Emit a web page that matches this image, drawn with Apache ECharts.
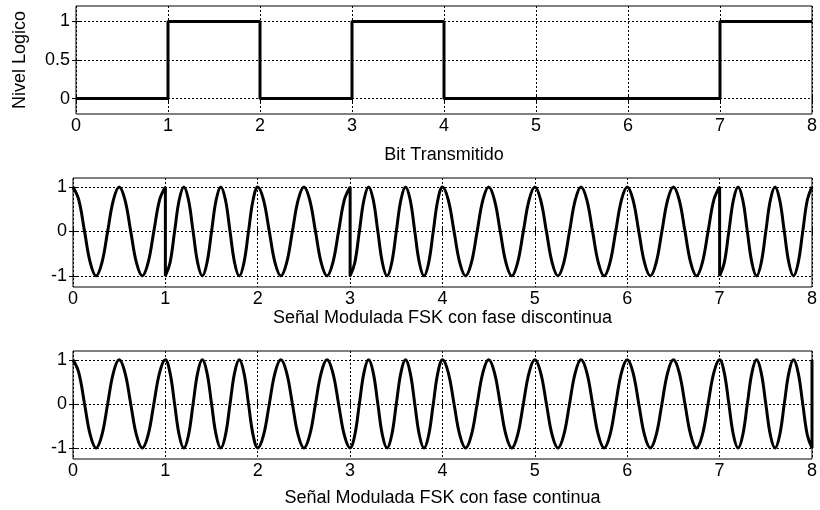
<!DOCTYPE html>
<html>
<head>
<meta charset="utf-8">
<script src="https://cdn.jsdelivr.net/npm/echarts@6/dist/echarts.min.js"></script>
<style>html,body{margin:0;padding:0;background:#fff}#c{width:820px;height:510px}</style>
</head>
<body>
<div id="c"></div>
<script>
// Bits transmitted (one per unit of time)
const bits = [0, 1, 0, 1, 0, 0, 0, 1];
const xTickValues = [0, 1, 2, 3, 4, 5, 6, 7, 8];
const yTicksBits = [0, 0.5, 1];
const yTicksSignal = [-1, 0, 1];

// FSK, discontinuous phase: values read per bit interval (evenly spaced samples within each bit)
const fskDiscontinua = [
  [1, 0.71, 0, -0.71, -1, -0.71, 0, 0.71, 1, 0.71, 0, -0.71, -1, -0.71, 0, 0.71, 1],
  [-1, -0.71, 0, 0.71, 1, 0.71, 0, -0.71, -1, -0.71, 0, 0.71, 1, 0.71, 0, -0.71, -1, -0.71, 0, 0.71, 1],
  [1, 0.71, 0, -0.71, -1, -0.71, 0, 0.71, 1, 0.71, 0, -0.71, -1, -0.71, 0, 0.71, 1],
  [-1, -0.71, 0, 0.71, 1, 0.71, 0, -0.71, -1, -0.71, 0, 0.71, 1, 0.71, 0, -0.71, -1, -0.71, 0, 0.71, 1],
  [1, 0.71, 0, -0.71, -1, -0.71, 0, 0.71, 1, 0.71, 0, -0.71, -1, -0.71, 0, 0.71, 1],
  [1, 0.71, 0, -0.71, -1, -0.71, 0, 0.71, 1, 0.71, 0, -0.71, -1, -0.71, 0, 0.71, 1],
  [1, 0.71, 0, -0.71, -1, -0.71, 0, 0.71, 1, 0.71, 0, -0.71, -1, -0.71, 0, 0.71, 1],
  [-1, -0.71, 0, 0.71, 1, 0.71, 0, -0.71, -1, -0.71, 0, 0.71, 1, 0.71, 0, -0.71, -1, -0.71, 0, 0.71, 1]
];

// FSK, continuous phase
const fskContinua = [
  [1, 0.71, 0, -0.71, -1, -0.71, 0, 0.71, 1, 0.71, 0, -0.71, -1, -0.71, 0, 0.71, 1],
  [1, 0.71, 0, -0.71, -1, -0.71, 0, 0.71, 1, 0.71, 0, -0.71, -1, -0.71, 0, 0.71, 1, 0.71, 0, -0.71, -1],
  [-1, -0.71, 0, 0.71, 1, 0.71, 0, -0.71, -1, -0.71, 0, 0.71, 1, 0.71, 0, -0.71, -1],
  [-1, -0.71, 0, 0.71, 1, 0.71, 0, -0.71, -1, -0.71, 0, 0.71, 1, 0.71, 0, -0.71, -1, -0.71, 0, 0.71, 1],
  [1, 0.71, 0, -0.71, -1, -0.71, 0, 0.71, 1, 0.71, 0, -0.71, -1, -0.71, 0, 0.71, 1],
  [1, 0.71, 0, -0.71, -1, -0.71, 0, 0.71, 1, 0.71, 0, -0.71, -1, -0.71, 0, 0.71, 1],
  [1, 0.71, 0, -0.71, -1, -0.71, 0, 0.71, 1, 0.71, 0, -0.71, -1, -0.71, 0, 0.71, 1],
  [1, 0.71, 0, -0.71, -1, -0.71, 0, 0.71, 1, 0.71, 0, -0.71, -1, -0.71, 0, 0.71, 1, 0.71, 0, -0.71, -1]
];
const fskContinuaFinal = [8, 1];

function toPoints(segs) {
  const pts = [];
  segs.forEach((seg, k) => {
    const n = seg.length;
    seg.forEach((v, i) => {
      if (i === 0 && pts.length && pts[pts.length - 1][1] === v) return;
      pts.push([k + i / (n - 1), v]);
    });
  });
  return pts;
}

const bitPoints = bits.map((b, i) => [i, b]).concat([[bits.length, bits[bits.length - 1]]]);
const discPoints = toPoints(fskDiscontinua);
const contPoints = toPoints(fskContinua).concat([fskContinuaFinal]);

const FONT = 'Liberation Sans';
const FS = 18;
const gridLine = { show: true, lineStyle: { color: '#000', width: 1, type: [2, 2] } };

function xAx(gi, name, gap) {
  return {
    type: 'value', gridIndex: gi, min: 0, max: 8, interval: 1,
    name: name, nameLocation: 'middle', nameGap: gap,
    nameTextStyle: { fontFamily: FONT, fontSize: FS, color: '#000' },
    axisLine: { show: false },
    axisTick: { show: true, inside: true, length: 4, lineStyle: { color: '#000' } },
    axisLabel: { fontFamily: FONT, fontSize: FS, color: '#000', margin: 3 },
    splitLine: gridLine
  };
}
function xAxTop(gi) {
  return {
    type: 'value', gridIndex: gi, min: 0, max: 8, interval: 1, position: 'top',
    axisLine: { show: false },
    axisTick: { show: true, inside: true, length: 4, lineStyle: { color: '#000' } },
    axisLabel: { show: false }, splitLine: { show: false }
  };
}
function yAx(gi, min, max, ticks, name, gap) {
  return {
    type: 'value', gridIndex: gi, min: min, max: max,
    name: name || '', nameLocation: 'middle', nameGap: gap || 0,
    nameTextStyle: { fontFamily: FONT, fontSize: FS, color: '#000' },
    axisLine: { show: false },
    axisTick: { show: true, inside: true, length: 4, customValues: ticks, lineStyle: { color: '#000' } },
    axisLabel: { fontFamily: FONT, fontSize: FS, color: '#000', margin: 6, customValues: ticks },
    splitLine: gridLine
  };
}
function yAxRight(gi, min, max, ticks) {
  return {
    type: 'value', gridIndex: gi, min: min, max: max, position: 'right',
    axisLine: { show: false },
    axisTick: { show: true, inside: true, length: 4, customValues: ticks, lineStyle: { color: '#000' } },
    axisLabel: { show: false, customValues: ticks }, splitLine: { show: false }
  };
}

const gridStyle = { show: true, borderColor: '#000', borderWidth: 1, backgroundColor: '#fff' };

const option = {
  animation: false,
  backgroundColor: '#fff',
  grid: [
    Object.assign({ left: 76, top: 6, width: 737, height: 108 }, gridStyle),
    Object.assign({ left: 73, top: 178, width: 742, height: 109 }, gridStyle),
    Object.assign({ left: 73, top: 351, width: 742, height: 108 }, gridStyle)
  ],
  xAxis: [
    xAx(0, 'Bit Transmitido', 32),
    xAx(1, 'Señal Modulada FSK con fase discontinua', 22),
    xAx(2, 'Señal Modulada FSK con fase continua', 30),
    xAxTop(0), xAxTop(1), xAxTop(2)
  ],
  yAxis: [
    yAx(0, -0.2, 1.2, yTicksBits, 'Nivel Logico', 47),
    yAx(1, -1.25, 1.2, yTicksSignal),
    yAx(2, -1.25, 1.2, yTicksSignal),
    yAxRight(0, -0.2, 1.2, yTicksBits),
    yAxRight(1, -1.25, 1.2, yTicksSignal),
    yAxRight(2, -1.25, 1.2, yTicksSignal)
  ],
  series: [
    { type: 'line', xAxisIndex: 0, yAxisIndex: 0, data: bitPoints, step: 'end', showSymbol: false,
      lineStyle: { color: '#000', width: 3 } },
    { type: 'line', xAxisIndex: 1, yAxisIndex: 1, data: discPoints, smooth: 0.4, showSymbol: false,
      lineStyle: { color: '#000', width: 3 } },
    { type: 'line', xAxisIndex: 2, yAxisIndex: 2, data: contPoints, smooth: 0.4, showSymbol: false,
      lineStyle: { color: '#000', width: 3 } }
  ]
};

const chart = echarts.init(document.getElementById('c'), null, { renderer: 'canvas' });
chart.setOption(option);
</script>
</body>
</html>
